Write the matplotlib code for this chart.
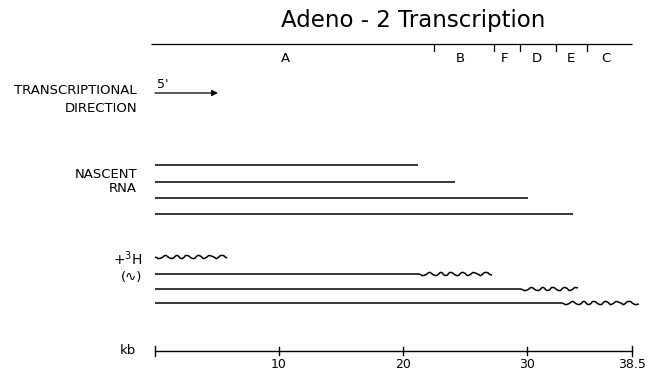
import matplotlib
matplotlib.use("Agg")
import matplotlib.pyplot as plt

# ---- data (kb) ----
title = "Adeno - 2 Transcription"
genome_length = 38.5
region_names = ["A", "B", "F", "D", "E", "C"]
region_bounds = [22.5, 27.3, 29.4, 32.3, 34.8]
region_label_pos = [10.5, 24.6, 28.2, 30.8, 33.5, 36.4]

nascent_ends = [21.2, 24.2, 30.1, 33.7]

labeled_straight_ends = [0.0, 21.3, 29.5, 32.8]
labeled_ends = [5.8, 27.2, 34.1, 39.0]

kb_ticks = [0, 10, 20, 30, 38.5]
kb_tick_labels = ["", "10", "20", "30", "38.5"]

# ---- layout ----
W, H = 650, 372
fig = plt.figure(figsize=(W / 100, H / 100), dpi=100)
ax = fig.add_axes([0, 0, 1, 1])
x0_px, px_per_kb = 155.0, 12.4
ax.set_xlim(-x0_px / px_per_kb, (W - x0_px) / px_per_kb)
ax.set_ylim(H, 0)
ax.axis("off")

def kx(px):
    return (px - x0_px) / px_per_kb

font = "DejaVu Sans"
col = "black"
lab_fs = 9.5

# title
ax.text(kx(413), 21, title, ha="center", va="center", fontsize=16.5, family=font, color=col)

# genome map
y_map = 43.5
ax.plot([kx(151), genome_length], [y_map, y_map], color=col, lw=0.9, solid_capstyle="butt")
for b in region_bounds:
    ax.plot([b, b], [y_map, y_map + 7], color=col, lw=0.9)
for name, p in zip(region_names, region_label_pos):
    ax.text(p, 59, name, ha="center", va="center", fontsize=9.5, family=font, color=col)

# transcriptional direction
ax.text(kx(137), 91, "TRANSCRIPTIONAL", ha="right", va="center", fontsize=lab_fs, family=font, color=col)
ax.text(kx(137), 109, "DIRECTION", ha="right", va="center", fontsize=lab_fs, family=font, color=col)
ax.text(kx(157), 84, "5'", ha="left", va="center", fontsize=9, family=font, color=col)
ax.annotate("", xy=(kx(218), 93), xytext=(0, 93),
            arrowprops=dict(arrowstyle="-|>", color=col, lw=0.9,
                            mutation_scale=9, shrinkA=0, shrinkB=0))

# nascent RNA
ax.text(kx(137), 174, "NASCENT", ha="right", va="center", fontsize=lab_fs, family=font, color=col)
ax.text(kx(137), 189, "RNA", ha="right", va="center", fontsize=lab_fs, family=font, color=col)
nascent_y = [165.3, 182.0, 197.7, 213.7]
for e, y in zip(nascent_ends, nascent_y):
    ax.plot([0, e], [y, y], color=col, lw=1.1, solid_capstyle="butt")

# labeled RNA
ax.text(kx(142), 259, "+$^{3}$H", ha="right", va="center", fontsize=10, family=font, color=col)
ax.text(kx(142), 278, "(\u223f)", ha="right", va="center", fontsize=9.5, family=font, color=col)
labeled_y = [257.3, 274.3, 289.0, 303.3]
for s, e, y in zip(labeled_straight_ends, labeled_ends, labeled_y):
    if s > 0:
        ax.plot([0, s], [y, y], color=col, lw=1.1, solid_capstyle="butt")
    ln, = ax.plot([s, e], [y, y], color=col, lw=1.1, solid_capstyle="butt")
    ln.set_sketch_params(scale=1.6, length=13, randomness=2.0)

# kb scale
y_kb = 351
ax.text(kx(136), y_kb, "kb", ha="right", va="center", fontsize=9.5, family=font, color=col)
ax.plot([0, genome_length], [y_kb, y_kb], color=col, lw=1.0)
for t, lab in zip(kb_ticks, kb_tick_labels):
    h = 5 if t in (kb_ticks[0], kb_ticks[-1]) else 4
    ax.plot([t, t], [y_kb - h, y_kb + h], color=col, lw=1.0)
    if lab:
        ax.text(t, 358.5, lab, ha="center", va="top", fontsize=9, family=font, color=col)

fig.savefig("out.png", dpi=100, facecolor="white")
